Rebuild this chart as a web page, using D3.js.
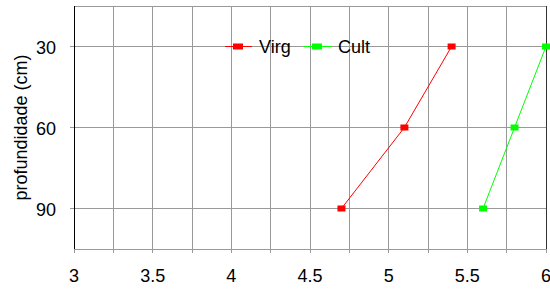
<!DOCTYPE html>
<html>
<head>
<meta charset="utf-8">
<script src="https://cdn.jsdelivr.net/npm/d3@7"></script>
<style>
body{margin:0;background:#fff}
text{font-family:"Liberation Sans",Arial,sans-serif}
</style>
</head>
<body>
<script>
// profundidade (cm) x valores
var depths=[30,60,90]
var virg=[5.4,5.1,4.7]
var cult=[6.0,5.8,5.6]
var xTicks=[3,3.5,4,4.5,5,5.5,6]
var seriesNames=["Virg","Cult"]
var seriesColors=["#ff0000","#00ff00"]

var W=550,H=291
var m={l:74,r:4,t:6,b:42}

const svg=d3.select("body").append("svg").attr("width",W).attr("height",H)

var x=d3.scaleLinear().domain([3,6]).range([m.l,W-m.r])
var y=d3.scaleLinear().domain([15,105]).range([m.t,H-m.b])

var grid="#999"
// vertical grid every 0.25
var minor=d3.range(3,6.001,0.25)
svg.append("g").selectAll("line").data(minor).join("line")
	.attr("x1",d=>x(d)).attr("x2",d=>x(d))
	.attr("y1",y(15)).attr("y2",y(105)+4)
	.attr("stroke",grid).attr("stroke-width",1)
	.attr("shape-rendering","crispEdges")
// horizontal grid
svg.append("g").selectAll("line").data(depths).join("line")
	.attr("x1",x(3)-4).attr("x2",x(6))
	.attr("y1",d=>y(d)).attr("y2",d=>y(d))
	.attr("stroke",grid).attr("stroke-width",1)
	.attr("shape-rendering","crispEdges")
// top and bottom borders
svg.append("line").attr("x1",x(3)).attr("x2",x(6)).attr("y1",y(15)).attr("y2",y(15))
	.attr("stroke",grid).attr("shape-rendering","crispEdges")
svg.append("line").attr("x1",x(3)).attr("x2",x(6)).attr("y1",y(105)).attr("y2",y(105))
	.attr("stroke",grid).attr("shape-rendering","crispEdges")
// left axis and right border
svg.append("line").attr("x1",x(3)).attr("x2",x(3)).attr("y1",y(15)).attr("y2",y(105))
	.attr("stroke","#000").attr("shape-rendering","crispEdges")
svg.append("line").attr("x1",x(6)).attr("x2",x(6)).attr("y1",y(15)).attr("y2",y(105))
	.attr("stroke","#333").attr("shape-rendering","crispEdges")

// tick labels
svg.append("g").selectAll("text").data(xTicks).join("text")
	.attr("x",d=>x(d)).attr("y",282)
	.attr("text-anchor","middle").attr("font-size",18)
	.text(d=>d)
svg.append("g").selectAll("text").data(depths).join("text")
	.attr("x",56).attr("y",d=>y(d)).attr("dy","0.4em")
	.attr("text-anchor","end").attr("font-size",18)
	.text(d=>d)
svg.append("text").attr("transform","translate(27,"+y(60)+") rotate(-90)")
	.attr("text-anchor","middle").attr("font-size",18)
	.text("profundidade (cm)")

// series
var series=[virg,cult]
var line=d3.line().x(d=>x(d[0])).y(d=>y(d[1]))
series.forEach(function(vals,i){
	var pts=vals.map((v,j)=>[v,depths[j]])
	svg.append("path").attr("d",line(pts)).attr("fill","none")
		.attr("stroke",seriesColors[i]).attr("stroke-width",1)
	svg.append("g").selectAll("rect").data(pts).join("rect")
		.attr("x",d=>x(d[0])-4).attr("y",d=>y(d[1])-3)
		.attr("width",8).attr("height",6)
		.attr("fill",seriesColors[i])
})

// legend
var legX=[225,304]
seriesNames.forEach(function(n,i){
	var g=svg.append("g").attr("transform","translate("+legX[i]+","+y(30)+")")
	g.append("line").attr("x1",0).attr("x2",27).attr("y1",0).attr("y2",0)
		.attr("stroke",seriesColors[i])
	g.append("rect").attr("x",8).attr("y",-3).attr("width",10).attr("height",6)
		.attr("fill",seriesColors[i])
	g.append("text").attr("x",34).attr("y",0).attr("dy","0.36em")
		.attr("font-size",18).text(n)
})
</script>
</body>
</html>
